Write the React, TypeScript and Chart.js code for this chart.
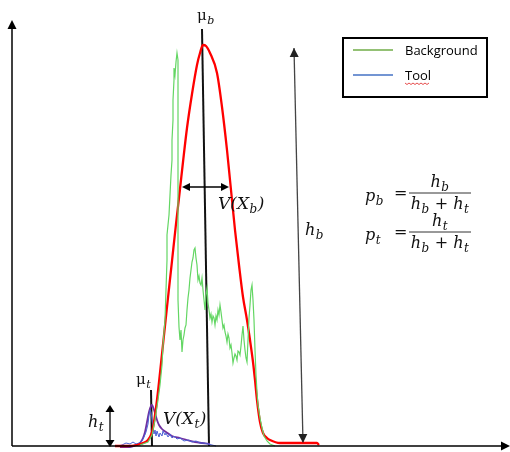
import { useEffect, useRef } from 'react';
import { Chart, registerables } from 'chart.js';

Chart.register(...registerables);

// ---- data (x = horizontal position, y = height above the axis) ----
const backgroundX = [140, 148, 152, 155, 158, 160, 162, 163, 165, 166, 167, 167, 169, 170, 171, 172, 172, 173, 173, 174, 174, 175, 176, 177, 178, 178, 178, 178, 178, 179, 180, 181, 182, 183, 184, 185, 186, 187, 188, 189, 190, 191, 192, 193, 194, 195, 196, 197, 198, 199, 200, 201, 202, 203, 204, 205, 206, 207, 208, 209, 210, 211, 212, 213, 214, 215, 216, 217, 218, 219, 220, 221, 222, 223, 224, 225, 226, 227, 228, 229, 230, 231, 232, 233, 234, 235, 236, 237, 238, 239, 240, 241, 242, 243, 244, 245, 246, 247, 248, 249, 250, 251, 252, 253, 254, 255, 256, 257, 258, 260, 262, 264, 267, 270, 275];
const backgroundY = [1, 4, 11, 26, 46, 61, 81, 101, 126, 156, 186, 211, 231, 251, 271, 286, 306, 326, 346, 366, 378, 371, 384, 393, 386, 326, 266, 206, 146, 119, 106, 116, 94, 106, 111, 118, 121, 136, 148, 156, 168, 176, 184, 188, 196, 198, 188, 181, 166, 170, 163, 161, 168, 156, 146, 136, 151, 158, 143, 136, 128, 132, 124, 130, 128, 121, 130, 126, 136, 131, 141, 134, 126, 118, 121, 114, 110, 104, 112, 108, 98, 101, 93, 83, 88, 92, 90, 86, 95, 94, 91, 100, 111, 120, 106, 96, 88, 84, 106, 128, 141, 156, 161, 146, 126, 96, 71, 54, 41, 28, 18, 10, 5, 2, 0];

const fitBX = [115, 127, 137, 143, 148, 152, 154, 157, 162, 167, 172, 176, 180, 183, 187, 192, 197, 200, 203, 206, 210, 217, 222, 227, 230, 232, 235, 239, 243, 247, 250, 253, 255, 257, 260, 263, 267, 270, 280, 300, 317, 319];
const fitBY = [0, 0, 1, 3, 6, 14, 24, 46, 92, 139, 185, 222, 257, 284, 318, 352, 381, 393, 401, 400, 393, 373, 339, 296, 266, 246, 216, 181, 149, 126, 106, 84, 66, 46, 24, 13, 8, 6, 3, 3, 3, 1];

const toolX = [118, 122, 126, 130, 133, 136, 139, 142, 144, 146, 148, 149, 150, 151, 152, 153, 154, 155, 156, 157, 158, 159, 160, 162, 163, 165, 166, 168, 170, 172, 174, 177, 180, 184, 188, 192, 196, 200, 204, 208, 212, 216];
const toolY = [0, 1, 3, 2, 4, 2, 3, 5, 9, 14, 22, 31, 36, 34, 26, 18, 12, 16, 10, 15, 12, 9, 13, 10, 15, 11, 13, 9, 12, 8, 10, 7, 8, 5, 6, 4, 5, 3, 3, 2, 1, 0];

const fitTX = [120, 130, 136, 140, 143, 145, 147, 149, 151, 152, 153, 155, 157, 159, 162, 166, 172, 180, 187, 195, 202, 210];
const fitTY = [-1, -1, 1, 3, 8, 14, 24, 34, 40, 41, 39, 33, 26, 21, 17, 14, 10, 8, 6, 4, 3, 2];

const muBX = [202, 209];
const muBY = [417, 0];
const muTX = [151, 152];
const muTY = [56, 0];
const hbX = [294, 303];
const hbY = [398, 3];

const legendLabels = ['Background', 'Tool'];

const toPts = (xs: number[], ys: number[]) => xs.map((x, i) => ({ x, y: ys[i] }));

const MATH = "'DejaVu Serif', serif";

type Part = { t: string; sub?: string; up?: boolean };

function partsWidth(ctx: CanvasRenderingContext2D, parts: Part[], size: number) {
  let w = 0;
  for (const p of parts) {
    ctx.font = `${p.up ? '' : 'italic '}${size}px ${MATH}`;
    w += ctx.measureText(p.t).width;
    if (p.sub) {
      ctx.font = `italic ${Math.round(size * 0.72)}px ${MATH}`;
      w += ctx.measureText(p.sub).width + 1;
    }
  }
  return w;
}

function drawParts(ctx: CanvasRenderingContext2D, parts: Part[], x: number, y: number, size: number) {
  ctx.textBaseline = 'alphabetic';
  ctx.textAlign = 'left';
  let cx = x;
  for (const p of parts) {
    ctx.font = `${p.up ? '' : 'italic '}${size}px ${MATH}`;
    ctx.fillText(p.t, cx, y);
    cx += ctx.measureText(p.t).width;
    if (p.sub) {
      ctx.font = `italic ${Math.round(size * 0.72)}px ${MATH}`;
      ctx.fillText(p.sub, cx + 0.5, y + size * 0.25);
      cx += ctx.measureText(p.sub).width + 1;
    }
  }
}

function head(ctx: CanvasRenderingContext2D, tx: number, ty: number, dx: number, dy: number, len = 8, half = 4) {
  const n = Math.hypot(dx, dy);
  const ux = dx / n, uy = dy / n;
  const bx = tx - ux * len, by = ty - uy * len;
  ctx.beginPath();
  ctx.moveTo(tx, ty);
  ctx.lineTo(bx - uy * half, by + ux * half);
  ctx.lineTo(bx + uy * half, by - ux * half);
  ctx.closePath();
  ctx.fill();
}

const decorPlugin = {
  id: 'decor',
  afterDatasetsDraw(chart: any) {
    const ctx: CanvasRenderingContext2D = chart.ctx;
    const xs = chart.scales.x, ys = chart.scales.y;
    const X = (v: number) => xs.getPixelForValue(v);
    const Y = (v: number) => ys.getPixelForValue(v);
    ctx.save();

    // axes
    ctx.strokeStyle = '#000';
    ctx.fillStyle = '#000';
    ctx.lineWidth = 1.5;
    ctx.beginPath();
    ctx.moveTo(X(12), Y(0));
    ctx.lineTo(X(12), Y(418));
    ctx.stroke();
    head(ctx, X(12), Y(426), 0, -1, 9, 4.5);
    ctx.beginPath();
    ctx.moveTo(X(12), Y(0));
    ctx.lineTo(X(502), Y(0));
    ctx.stroke();
    head(ctx, X(510), Y(0), 1, 0, 9, 4.5);

    // h_b arrow heads
    ctx.fillStyle = '#222';
    head(ctx, X(hbX[0]), Y(hbY[0]), X(hbX[0]) - X(hbX[1]), Y(hbY[0]) - Y(hbY[1]), 9, 4.5);
    head(ctx, X(hbX[1]), Y(hbY[1]), X(hbX[1]) - X(hbX[0]), Y(hbY[1]) - Y(hbY[0]), 9, 4.5);

    // V(Xb) double arrow
    ctx.fillStyle = '#000';
    ctx.strokeStyle = '#000';
    ctx.lineWidth = 1.3;
    ctx.beginPath();
    ctx.moveTo(X(189), Y(259));
    ctx.lineTo(X(222), Y(259));
    ctx.stroke();
    head(ctx, X(182), Y(259), -1, 0, 8, 4);
    head(ctx, X(229), Y(259), 1, 0, 8, 4);

    // h_t double arrow
    ctx.beginPath();
    ctx.moveTo(X(110), Y(34));
    ctx.lineTo(X(110), Y(6));
    ctx.stroke();
    head(ctx, X(110), Y(41), 0, -1, 7, 4.5);
    head(ctx, X(110), Y(-1), 0, 1, 7, 4.5);

    // labels
    ctx.fillStyle = '#111';
    drawParts(ctx, [{ t: 'μ', up: true, sub: 'b' }], X(197), Y(426), 15);
    drawParts(ctx, [{ t: 'μ', up: true, sub: 't' }], X(136), Y(62), 15);
    drawParts(ctx, [{ t: 'V', }, { t: '(X', sub: 'b' }, { t: ')' }], X(218), Y(237), 17);
    drawParts(ctx, [{ t: 'V' }, { t: '(X', sub: 't' }, { t: ')' }], X(163), Y(22), 17);
    drawParts(ctx, [{ t: 'h', sub: 'b' }], X(305), Y(211), 16);
    drawParts(ctx, [{ t: 'h', sub: 't' }], X(88), Y(19), 16);

    // formulas
    const frac = (lhs: Part[], num: Part[], barY: number) => {
      drawParts(ctx, lhs, X(365), Y(barY) + 8, 16);
      ctx.font = `16px ${MATH}`;
      ctx.fillText('=', X(394), Y(barY) + 5);
      ctx.lineWidth = 1;
      ctx.strokeStyle = '#333';
      ctx.beginPath();
      ctx.moveTo(X(409), Y(barY));
      ctx.lineTo(X(471), Y(barY));
      ctx.stroke();
      const cx = X(440);
      const nw = partsWidth(ctx, num, 16);
      drawParts(ctx, num, cx - nw / 2, Y(barY) - 6, 16);
      const den: Part[] = [{ t: 'h', sub: 'b' }, { t: ' + h', sub: 't' }];
      const dw = partsWidth(ctx, den, 16);
      drawParts(ctx, den, cx - dw / 2, Y(barY) + 16, 16);
    };
    frac([{ t: 'p', sub: 'b' }], [{ t: 'h', sub: 'b' }], 253);
    frac([{ t: 'p', sub: 't' }], [{ t: 'h', sub: 't' }], 214);

    // legend
    ctx.strokeStyle = '#000';
    ctx.lineWidth = 2;
    ctx.strokeRect(X(343), Y(408), X(487) - X(343), Y(349) - Y(408));
    const legCols = ['#70ad47', '#4472c4'];
    const legY = [396, 371];
    legendLabels.forEach((lab, i) => {
      ctx.strokeStyle = legCols[i];
      ctx.lineWidth = 1.5;
      ctx.beginPath();
      ctx.moveTo(X(353), Y(legY[i]));
      ctx.lineTo(X(393), Y(legY[i]));
      ctx.stroke();
      ctx.fillStyle = '#000';
      ctx.font = "13px 'Open Sans', sans-serif";
      ctx.textBaseline = 'middle';
      ctx.fillText(lab, X(405), Y(legY[i]) + 1);
    });
    // spell-check squiggle under "Tool"
    ctx.strokeStyle = '#e02020';
    ctx.lineWidth = 0.8;
    ctx.beginPath();
    const sy = Y(legY[1]) + 8;
    for (let k = 0; k <= 12; k++) {
      const px = X(405) + k * 2;
      const py = sy + (k % 2 === 0 ? 0 : 1.5);
      if (k === 0) ctx.moveTo(px, py); else ctx.lineTo(px, py);
    }
    ctx.stroke();

    ctx.restore();
  },
};

export default function App() {
  const ref = useRef<HTMLCanvasElement>(null);
  useEffect(() => {
    if (!ref.current) return;
    const chart = new Chart(ref.current, {
      type: 'line',
      data: {
        datasets: [
          { label: legendLabels[0], data: toPts(backgroundX, backgroundY), borderColor: '#63d663', borderWidth: 1.2, pointRadius: 0, tension: 0, clip: false } as any,
          { label: 'Background fit', data: toPts(fitBX, fitBY), borderColor: '#ff0000', borderWidth: 2.3, pointRadius: 0, cubicInterpolationMode: 'monotone', clip: false } as any,
          { label: legendLabels[1], data: toPts(toolX, toolY), borderColor: '#4a5fd4', borderWidth: 1, pointRadius: 0, tension: 0, clip: false } as any,
          { label: 'Tool fit', data: toPts(fitTX, fitTY), borderColor: '#7030a0', borderWidth: 1.8, pointRadius: 0, cubicInterpolationMode: 'monotone', clip: false } as any,
          { label: 'mu_b', data: toPts(muBX, muBY), borderColor: '#111', borderWidth: 2, pointRadius: 0, clip: false } as any,
          { label: 'mu_t', data: toPts(muTX, muTY), borderColor: '#111', borderWidth: 2, pointRadius: 0, clip: false } as any,
          { label: 'h_b', data: toPts(hbX, hbY), borderColor: '#444', borderWidth: 1.3, pointRadius: 0, clip: false } as any,
        ],
      },
      options: {
        responsive: false,
        maintainAspectRatio: false,
        devicePixelRatio: 1,
        animation: false,
        layout: { padding: { left: 12, top: 20, right: 5, bottom: 6 } },
        scales: {
          x: { type: 'linear', min: 12, max: 505, display: false },
          y: { type: 'linear', min: 0, max: 426, display: false },
        },
        plugins: { legend: { display: false }, tooltip: { enabled: false } },
        events: [],
      },
      plugins: [decorPlugin],
    });
    return () => chart.destroy();
  }, []);
  return (
    <div style={{ position: 'absolute', left: 0, top: 0, width: 510, height: 452, background: '#fff' }}>
      <canvas ref={ref} width={510} height={452} style={{ display: 'block' }} />
    </div>
  );
}
